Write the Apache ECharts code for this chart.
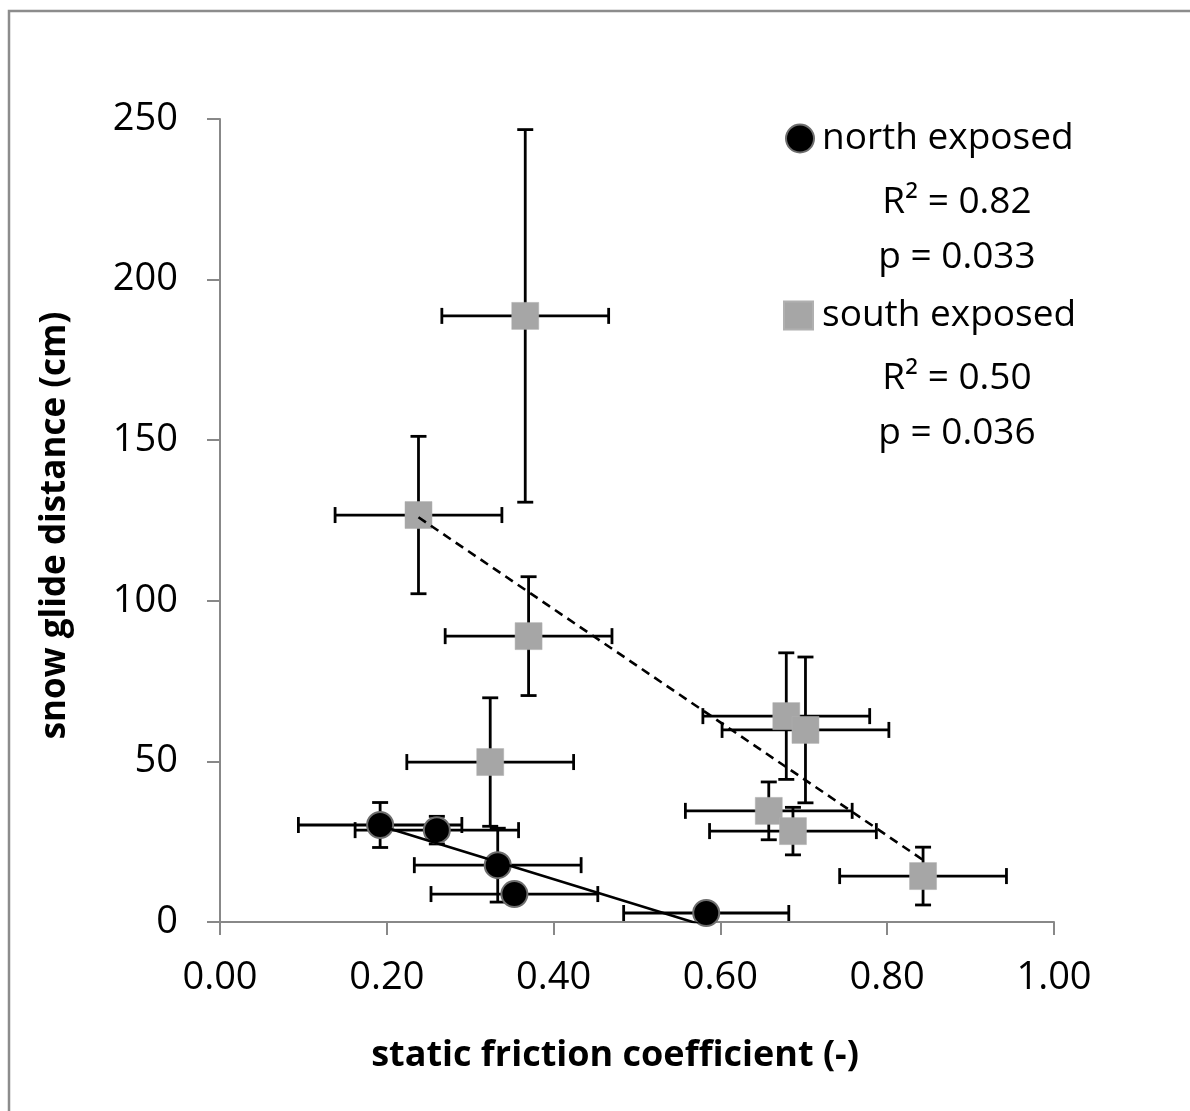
<!DOCTYPE html>
<html>
<head>
<meta charset="utf-8">
<script src="https://cdn.jsdelivr.net/npm/echarts@6/dist/echarts.min.js"></script>
<style>
html,body{margin:0;padding:0;background:#fff;}
#chart{width:1190px;height:1111px;}
</style>
</head>
<body>
<div id="chart"></div>
<script>
// ---- data ----
const northX    = [0.192, 0.260, 0.333, 0.353, 0.583];
const northY    = [30.2, 28.6, 17.7, 8.7, 2.8];
const northXErr = [0.098, 0.098, 0.100, 0.100, 0.099];
const northYErr = [7.0, 4.3, 11.5, 3.0, 2.5];

const southX    = [0.238, 0.366, 0.370, 0.324, 0.679, 0.702, 0.658, 0.687, 0.843];
const southY    = [126.7, 188.7, 89.0, 49.8, 64.1, 59.8, 34.6, 28.3, 14.3];
const southXErr = [0.100, 0.100, 0.100, 0.100, 0.100, 0.100, 0.100, 0.100, 0.100];
const southYErr = [24.5, 58.0, 18.5, 20.0, 19.7, 22.7, 9.0, 7.4, 9.0];

const northTrendX = [0.192, 0.583];
const northTrendY = [30.0, -1.3];
const southTrendX = [0.238, 0.843];
const southTrendY = [126.0, 19.3];

const xTicks = {min: 0, max: 1, interval: 0.2};
const yTicks = {min: 0, max: 250, interval: 50};

const statsNorth = ['R\u00B2 = 0.82', 'p = 0.033'];
const statsSouth = ['R\u00B2 = 0.50', 'p = 0.036'];

// ---- build ----
const FONT = '"Open Sans", "Noto Sans", sans-serif';
const AXIS_COLOR = '#888888';

function rows(xs, ys, exs, eys) {
  return xs.map((x, i) => [x, ys[i], exs[i], eys[i]]);
}
function pairs(xs, ys) {
  return xs.map((x, i) => [x, ys[i]]);
}

function errRender(params, api) {
  const x = api.value(0), y = api.value(1), ex = api.value(2), ey = api.value(3);
  const l = api.coord([x - ex, y]), r = api.coord([x + ex, y]);
  const t = api.coord([x, y + ey]), b = api.coord([x, y - ey]);
  const c = 8;
  const style = {stroke: '#000', lineWidth: 2.8, fill: null};
  const ln = (x1, y1, x2, y2) => ({type: 'line', shape: {x1, y1, x2, y2}, style});
  return {
    type: 'group',
    children: [
      ln(l[0], l[1], r[0], r[1]),
      ln(l[0], l[1] - c, l[0], l[1] + c),
      ln(r[0], r[1] - c, r[0], r[1] + c),
      ln(t[0], t[1], b[0], b[1]),
      ln(t[0] - c, t[1], t[0] + c, t[1]),
      ln(b[0] - c, b[1], b[0] + c, b[1])
    ]
  };
}

const chart = echarts.init(document.getElementById('chart'), null, {renderer: 'canvas'});

const statText = (txt, y) => ({
  type: 'text', x: 957, y: y,
  style: {text: txt, font: '37px ' + FONT, fill: '#000',
    textAlign: 'center', textVerticalAlign: 'middle', verticalAlign: 'middle'}
});

const option = {
  animation: false,
  backgroundColor: '#ffffff',
  textStyle: {fontFamily: FONT},
  grid: {left: 220, right: 136, top: 119, bottom: 189, containLabel: false},
  xAxis: {
    type: 'value',
    min: xTicks.min, max: xTicks.max, interval: xTicks.interval,
    name: 'static friction coefficient (-)',
    nameLocation: 'middle',
    nameGap: 116,
    nameTextStyle: {fontFamily: FONT, fontWeight: 'bold', fontSize: 36, color: '#000',
      padding: [0, 44, 0, 0]},
    axisLine: {show: true, lineStyle: {color: AXIS_COLOR, width: 2}},
    axisTick: {show: true, length: 13, lineStyle: {color: AXIS_COLOR, width: 2}},
    axisLabel: {fontFamily: FONT, fontSize: 38, color: '#000', margin: 37,
      formatter: v => v.toFixed(2)},
    splitLine: {show: false}
  },
  yAxis: {
    type: 'value',
    min: yTicks.min, max: yTicks.max, interval: yTicks.interval,
    name: 'snow glide distance (cm)',
    nameLocation: 'middle',
    nameGap: 147,
    nameTextStyle: {fontFamily: FONT, fontWeight: 'bold', fontSize: 35, color: '#000',
      padding: [0, 10, 0, 0]},
    axisLine: {show: true, lineStyle: {color: AXIS_COLOR, width: 2}},
    axisTick: {show: true, length: 13, lineStyle: {color: AXIS_COLOR, width: 2}},
    axisLabel: {fontFamily: FONT, fontSize: 38, color: '#000', margin: 42},
    splitLine: {show: false}
  },
  legend: [
    {
      data: ['north exposed'], left: 785, top: 120, orient: 'vertical', padding: 0,
      itemWidth: 28, itemHeight: 28, itemGap: 0, selectedMode: false,
      icon: 'circle',
      textStyle: {fontFamily: FONT, fontSize: 37, color: '#000', padding: [0, 0, 0, 3]}
    },
    {
      data: ['south exposed'], left: 783, top: 297, orient: 'vertical', padding: 0,
      itemWidth: 29, itemHeight: 28, itemGap: 0, selectedMode: false,
      icon: 'rect',
      textStyle: {fontFamily: FONT, fontSize: 37, color: '#000', padding: [0, 0, 0, 4]}
    }
  ],
  graphic: [
    {type: 'rect', shape: {x: 9, y: 11, width: 1250, height: 1200},
      style: {fill: null, stroke: '#8c8c8c', lineWidth: 2.5}, silent: true, z: -10},
    statText(statsNorth[0], 202),
    statText(statsNorth[1], 257),
    statText(statsSouth[0], 378),
    statText(statsSouth[1], 433)
  ],
  series: [
    {
      name: 'north err', type: 'custom', renderItem: errRender,
      data: rows(northX, northY, northXErr, northYErr),
      encode: {x: 0, y: 1}, z: 2, silent: true
    },
    {
      name: 'south err', type: 'custom', renderItem: errRender,
      data: rows(southX, southY, southXErr, southYErr),
      encode: {x: 0, y: 1}, z: 2, silent: true
    },
    {
      name: 'south exposed', type: 'scatter', symbol: 'rect', symbolSize: 27,
      itemStyle: {color: '#a6a6a6', borderColor: '#b0b0b0', borderWidth: 0.5, opacity: 1},
      data: pairs(southX, southY), z: 3
    },
    {
      name: 'north exposed', type: 'scatter', symbol: 'circle', symbolSize: 26,
      itemStyle: {color: '#000000', borderColor: '#6e6e6e', borderWidth: 2, opacity: 1},
      data: pairs(northX, northY), z: 3
    },
    {
      name: 'north trend', type: 'line', data: pairs(northTrendX, northTrendY),
      symbol: 'none', clip: true, lineStyle: {color: '#000', width: 2.6}, z: 4, silent: true
    },
    {
      name: 'south trend', type: 'line', data: pairs(southTrendX, southTrendY),
      symbol: 'none', clip: true, lineStyle: {color: '#000', width: 2.6, type: [9, 6]}, z: 4, silent: true
    }
  ]
};
chart.setOption(option);
</script>
</body>
</html>
